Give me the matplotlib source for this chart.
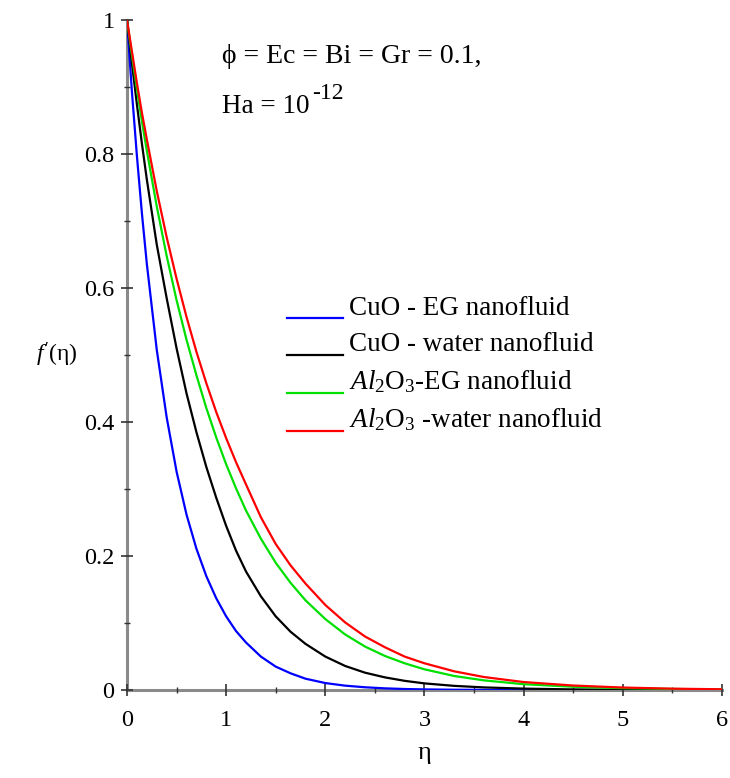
import numpy as np
import matplotlib
matplotlib.use("Agg")
import matplotlib.pyplot as plt
from matplotlib.ticker import MultipleLocator
from matplotlib.legend_handler import HandlerLine2D

# eta samples
eta = [0, .05, .1, .15, .2, .3, .4, .5, .6, .7, .8, .9, 1.0, 1.1, 1.2, 1.35,
       1.5, 1.65, 1.8, 2.0, 2.2, 2.4, 2.6, 2.8, 3.0, 3.3, 3.6, 4.0, 4.5, 5.0,
       5.5, 6.0]

cuo_eg = [1, .892, .797, .712, .636, .508, .407, .326, .262, .211, .170, .137,
          .110, .088, .071, .050, .035, .025, .017, .0105, .0066, .0042,
          .0026, .0016, .001, .0005, .0003, .0001, 0, 0, 0, 0]
cuo_water = [1, .935, .874, .816, .762, .665, .585, .51, .443, .385, .333,
             .287, .245, .208, .177, .14, .11, .087, .069, .05, .036, .026,
             .019, .0138, .01, .0063, .004, .0022, .001, .0005, .0002, .0001]
al2o3_eg = [1, .947, .897, .849, .805, .722, .648, .582, .523, .47, .421,
            .377, .337, .301, .268, .226, .19, .16, .134, .106, .083, .065,
            .051, .04, .031, .021, .0145, .0088, .005, .0029, .0017, .001]
al2o3_water = [1, .953, .906, .862, .822, .745, .676, .614, .557, .505, .458,
               .415, .376, .34, .307, .258, .218, .186, .159, .127, .101,
               .08, .064, .05, .04, .028, .0195, .012, .0068, .0038, .0021,
               .0012]

labels = ["CuO - EG nanofluid", "CuO - water nanofluid",
          r"$Al_2$O$_3$-EG nanofluid", r"$Al_2$O$_3$ -water nanofluid"]
colors = ["#0000ff", "#000000", "#00e000", "#ff0000"]


class BaselineLine(HandlerLine2D):
    # legend line sits under the text like in the original
    def create_artists(self, legend, orig_handle, xdescent, ydescent,
                       width, height, fontsize, trans):
        arts = super().create_artists(legend, orig_handle, xdescent, ydescent,
                                      width, height, fontsize, trans)
        for a in arts:
            a.set_ydata(np.full(len(a.get_xdata()), -0.14 * fontsize))
        return arts


plt.rcParams['font.family'] = ['Liberation Serif', 'DejaVu Serif']
plt.rcParams['mathtext.fontset'] = 'custom'
plt.rcParams['mathtext.rm'] = 'Liberation Serif'
plt.rcParams['mathtext.it'] = 'Liberation Serif:italic'

fig = plt.figure(figsize=(7.3, 7.78), dpi=100)
ax = fig.add_axes([0.174, 0.113, 0.815, 0.861])

for ys, c, lab in zip([cuo_eg, cuo_water, al2o3_eg, al2o3_water], colors, labels):
    ax.plot(eta, ys, color=c, lw=1.6, label=lab)

ax.set_xlim(0, 6)
ax.set_ylim(0, 1)
ax.xaxis.set_major_locator(MultipleLocator(1))
ax.xaxis.set_minor_locator(MultipleLocator(0.5))
ax.yaxis.set_minor_locator(MultipleLocator(0.1))
ax.set_yticks([0, 0.2, 0.4, 0.6, 0.8, 1.0])
ax.set_yticklabels(["0", "0.2", "0.4", "0.6", "0.8", "1"])

for s in ['top', 'right']:
    ax.spines[s].set_visible(False)
for s in ['left', 'bottom']:
    ax.spines[s].set_color('#8a8a8a')
    ax.spines[s].set_linewidth(2.2)
    ax.spines[s].set_zorder(0)

ax.tick_params(which='major', direction='inout', length=8, width=1.2,
               color='#333333', labelsize=17.5)
ax.tick_params(axis='x', which='major', pad=10)
ax.tick_params(axis='y', which='major', pad=5)
ax.tick_params(which='minor', direction='inout', length=5, width=1.0,
               color='#333333')

ax.set_xlabel("η", fontsize=19, labelpad=8)
ax.set_ylabel(r"$f'$(η)", fontsize=17, rotation=0, labelpad=20, va='center')

ax.text(0.16, 0.936, "ϕ = Ec = Bi = Gr = 0.1,", transform=ax.transAxes,
        fontsize=20, va='baseline')
ha = ax.text(0.16, 0.861, "Ha = 10", transform=ax.transAxes,
             fontsize=19.5, va='baseline')
ax.annotate("-12", xy=(1, 0.62), xycoords=ha, xytext=(2, 0),
            textcoords='offset points', fontsize=17, va='bottom')

ax.legend(loc='upper left', bbox_to_anchor=(0.25, 0.605), frameon=False,
          fontsize=19.5, handlelength=2.1, handletextpad=0.2,
          labelspacing=0.42, borderaxespad=0,
          handler_map={plt.Line2D: BaselineLine()})

fig.savefig("out.png", dpi=100)
